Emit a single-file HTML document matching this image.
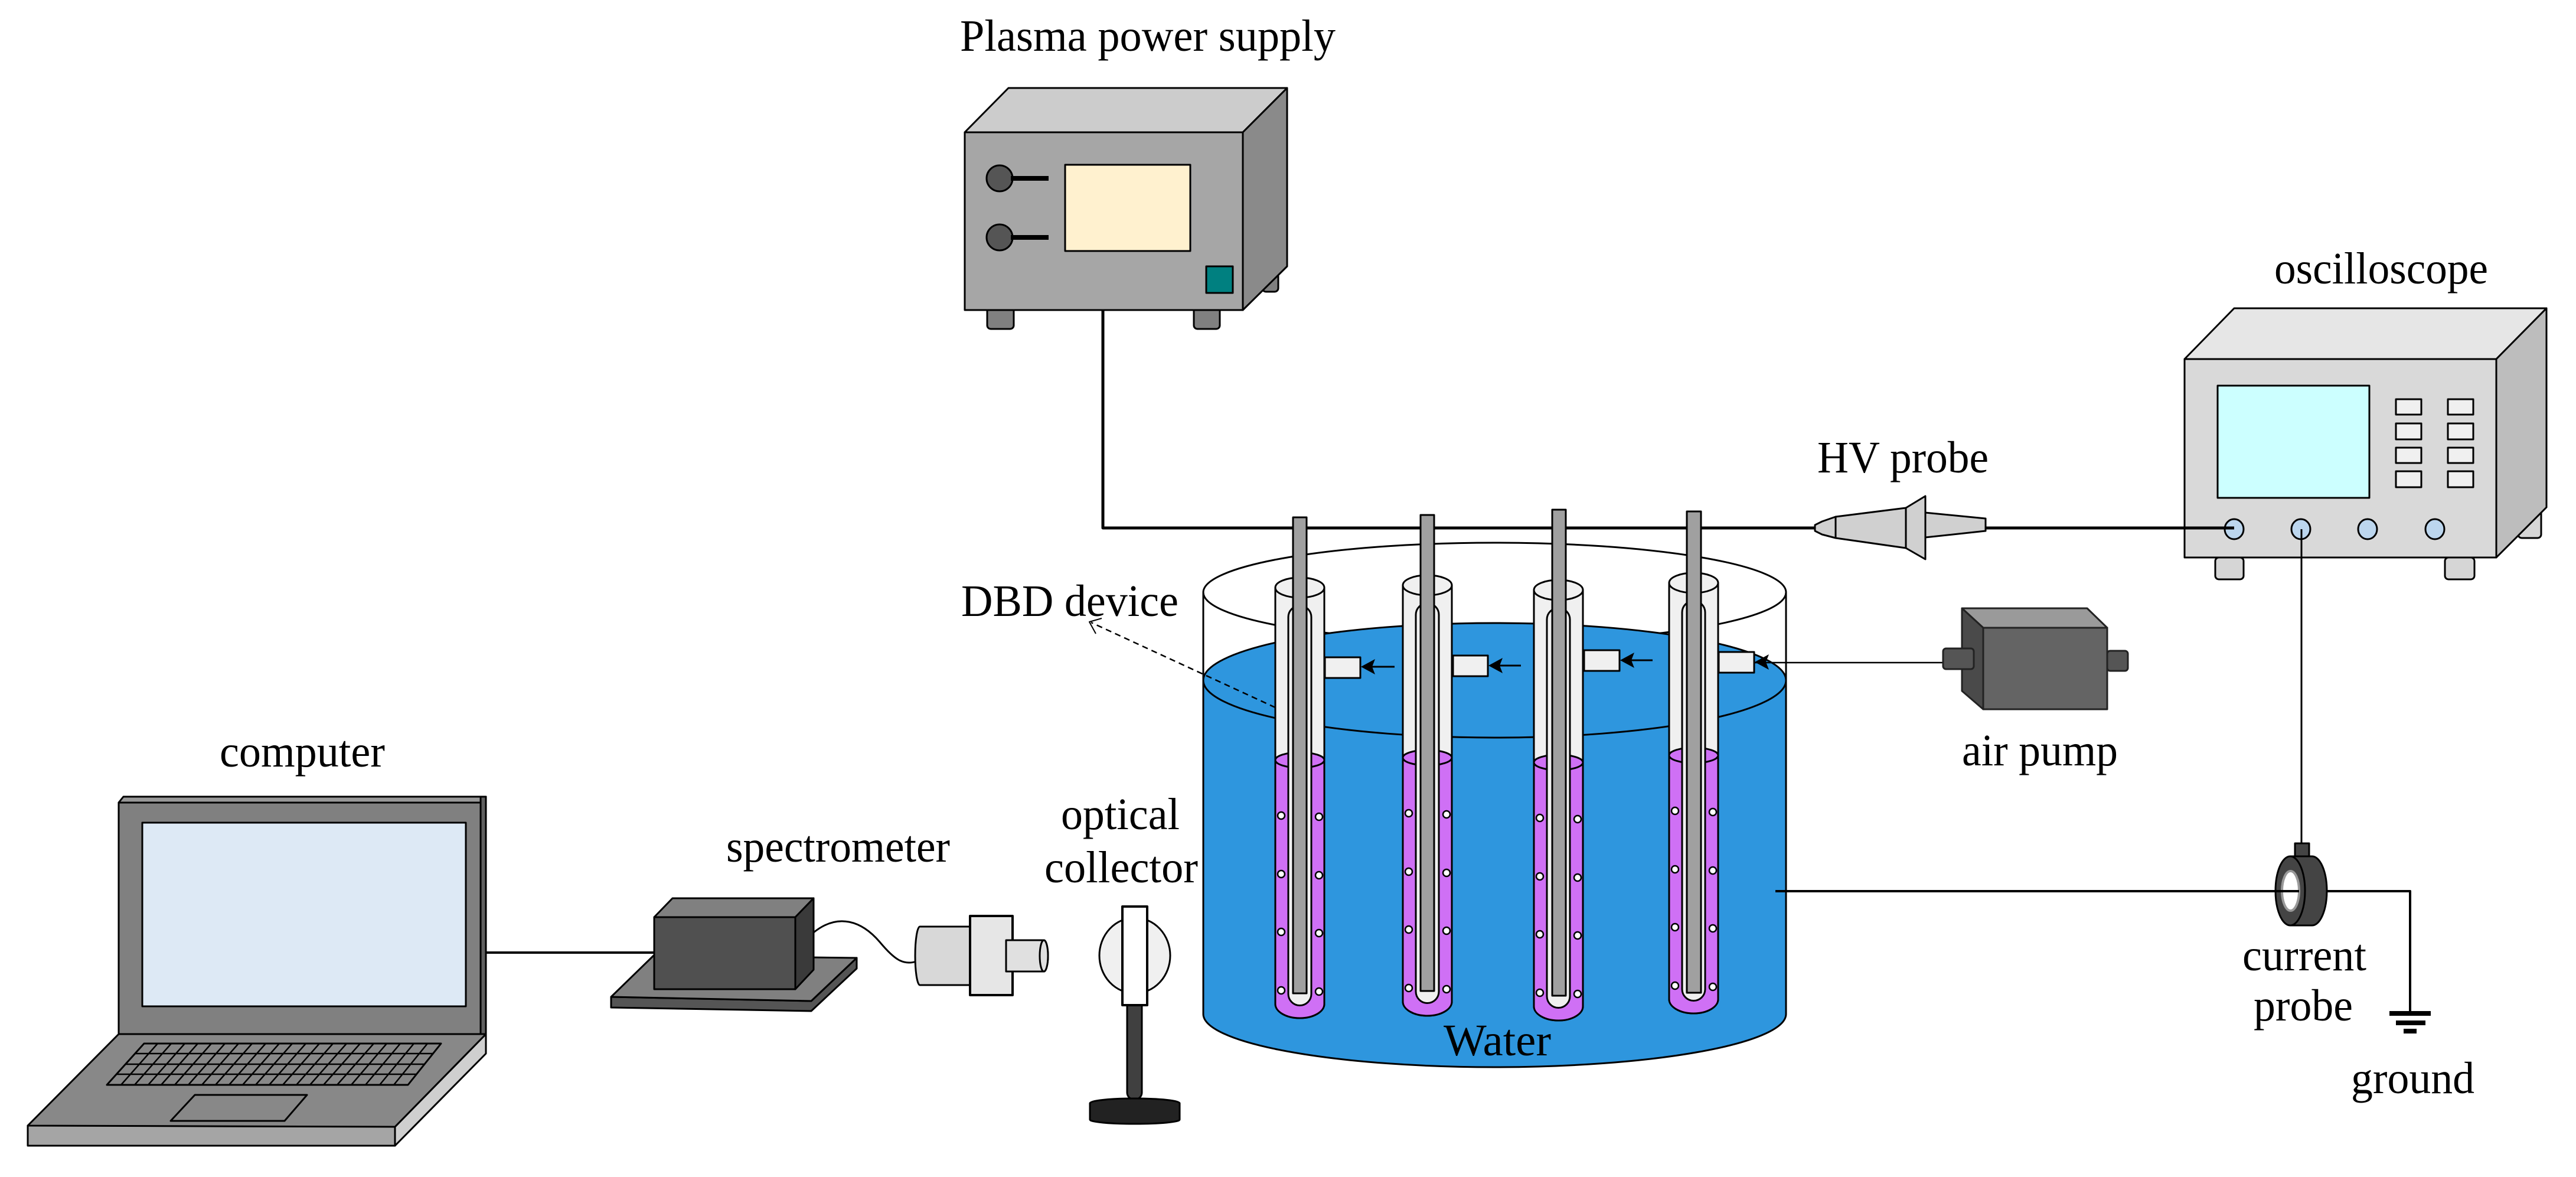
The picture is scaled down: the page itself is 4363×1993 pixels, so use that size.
<!DOCTYPE html>
<html><head><meta charset="utf-8"><style>html,body{margin:0;padding:0;background:#fff}svg{display:block}</style></head><body>
<svg width="4363" height="1993" viewBox="0 0 4363 1993" xmlns="http://www.w3.org/2000/svg" font-family="'Liberation Serif', serif" font-size="76" stroke-linejoin="round">
<rect width="4363" height="1993" fill="#fff"/>
<!-- labels -->
<g fill="#000">
<text x="1626" y="86" textLength="636" lengthAdjust="spacingAndGlyphs">Plasma power supply</text>
<text x="3852" y="480" textLength="362" lengthAdjust="spacingAndGlyphs">oscilloscope</text>
<text x="3078" y="800" textLength="290" lengthAdjust="spacingAndGlyphs">HV probe</text>
<text x="1628" y="1043" textLength="368" lengthAdjust="spacingAndGlyphs">DBD device</text>
<text x="3323" y="1296" textLength="264" lengthAdjust="spacingAndGlyphs">air pump</text>
<text x="372" y="1298" textLength="280" lengthAdjust="spacingAndGlyphs">computer</text>
<text x="1230" y="1459" textLength="379" lengthAdjust="spacingAndGlyphs">spectrometer</text>
<text x="1797" y="1404" textLength="201" lengthAdjust="spacingAndGlyphs">optical</text>
<text x="1769" y="1494" textLength="260" lengthAdjust="spacingAndGlyphs">collector</text>
<text x="3798" y="1643" textLength="210" lengthAdjust="spacingAndGlyphs">current</text>
<text x="3817" y="1728" textLength="168" lengthAdjust="spacingAndGlyphs">probe</text>
<text x="3982" y="1851" textLength="209" lengthAdjust="spacingAndGlyphs">ground</text>
</g>

<!-- power supply -->
<g stroke="#000" stroke-width="3">
<rect x="1672" y="515" width="45" height="42" rx="6" fill="#808080"/>
<rect x="2022" y="515" width="44" height="42" rx="6" fill="#808080"/>
<rect x="2138" y="440" width="27" height="54" rx="6" fill="#808080"/>
<polygon points="1634,224 1708,149 2180,149 2105,224" fill="#cccccc"/>
<polygon points="2105,224 2180,149 2180,451 2105,525" fill="#8a8a8a"/>
<rect x="1634" y="224" width="471" height="301" fill="#a6a6a6"/>
<rect x="1804" y="279" width="212" height="146" fill="#fff1cf"/>
<rect x="2043" y="451" width="45" height="45" fill="#008080"/>
<ellipse cx="1693" cy="302" rx="22" ry="22" fill="#555"/>
<ellipse cx="1693" cy="402" rx="22" ry="22" fill="#555"/>
</g>
<g stroke="#000" stroke-width="8"><line x1="1712" y1="302" x2="1776" y2="302"/><line x1="1712" y1="402" x2="1776" y2="402"/></g>
<!-- wire from PS -->
<polyline points="1868,525 1868,894 3074,894" fill="none" stroke="#000" stroke-width="5"/>

<!-- oscilloscope -->
<g stroke="#000" stroke-width="3">
<rect x="4265" y="860" width="39" height="51" rx="6" fill="#d6d6d6"/>
<rect x="3752" y="944" width="48" height="37" rx="6" fill="#d6d6d6"/>
<rect x="4141" y="944" width="50" height="37" rx="6" fill="#d6d6d6"/>
<polygon points="3700,608 3784,522 4313,522 4228,608" fill="#e6e6e6"/>
<polygon points="4228,608 4313,522 4313,859 4228,944" fill="#bdbdbd"/>
<rect x="3700" y="608" width="528" height="336" fill="#d9d9d9"/>
<rect x="3756" y="653" width="257" height="190" fill="#ccffff"/>
<g fill="#f0f0f0">
<rect x="4058" y="676" width="43" height="26"/><rect x="4146" y="676" width="43" height="26"/>
<rect x="4058" y="717" width="43" height="27"/><rect x="4146" y="717" width="43" height="27"/>
<rect x="4058" y="758" width="43" height="26"/><rect x="4146" y="758" width="43" height="26"/>
<rect x="4058" y="798" width="43" height="27"/><rect x="4146" y="798" width="43" height="27"/>
</g>
<g fill="#bcd6ee">
<ellipse cx="3784" cy="896" rx="16" ry="17"/><ellipse cx="3897" cy="896" rx="16" ry="17"/>
<ellipse cx="4010" cy="896" rx="16" ry="17"/><ellipse cx="4124" cy="896" rx="16" ry="17"/>
</g>
</g>
<!-- HV probe -->
<g stroke="#000" stroke-width="3" fill="#d0d0d0">
<polygon points="3074,889 3086,883 3109,875 3109,911 3086,905 3074,899"/>
<polygon points="3109,875 3228,860 3228,928 3109,911"/>
<polygon points="3228,860 3261,840 3261,947 3228,928"/>
<polygon points="3261,868 3363,878 3363,899 3261,910"/>
</g>
<line x1="3363" y1="894" x2="3784" y2="894" stroke="#000" stroke-width="5"/>
<line x1="3898" y1="896" x2="3898" y2="1430" stroke="#000" stroke-width="3"/>

<!-- tank -->
<g stroke="#000" stroke-width="3">
<ellipse cx="2531.5" cy="1003" rx="493.5" ry="84" fill="#fff"/>
<path d="M2038,1152 V1717 A493.5,90 0 0 0 3025,1717 V1152 Z" fill="#2e96de"/>
<ellipse cx="2531.5" cy="1152" rx="493.5" ry="97" fill="#2e96de"/>
<line x1="2038" y1="1003" x2="2038" y2="1152" />
<line x1="3025" y1="1003" x2="3025" y2="1152" />
</g>
<text x="2445" y="1787" textLength="182" lengthAdjust="spacingAndGlyphs" fill="#000">Water</text>
<!-- wire from water to current probe -->
<polyline points="3007,1509 4082,1509 4082,1716" fill="none" stroke="#000" stroke-width="4"/>
<!-- air line -->
<line x1="2971" y1="1122" x2="3291" y2="1122" stroke="#000" stroke-width="2.5"/>
<!-- DBD dashed -->
<line x1="2160" y1="1198" x2="1848" y2="1054" stroke="#000" stroke-width="2.5" stroke-dasharray="10,7"/>
<polyline points="1866,1047 1845,1053 1856,1073" fill="none" stroke="#000" stroke-width="2"/>

<!-- tubes -->
<defs>
<g id="tube">
<path d="M2160,995 V1700 A41.5,24 0 0 0 2243,1700 V995 Z" fill="#f0f0f0" stroke="#000" stroke-width="3"/>
<path d="M2160,1287 V1700 A41.5,24 0 0 0 2243,1700 V1287 Z" fill="#cf70f5" stroke="#000" stroke-width="3"/>
<ellipse cx="2201.5" cy="1287" rx="41.5" ry="13" fill="#cf70f5" stroke="#000" stroke-width="3"/>
<ellipse cx="2201.5" cy="995" rx="41.5" ry="17" fill="#f0f0f0" stroke="#000" stroke-width="3"/>
<path d="M2182,1045 A19.5,19.5 0 0 1 2221,1045 V1683 A19.5,19.5 0 0 1 2182,1683 Z" fill="#f0f0f0" stroke="#000" stroke-width="3"/>
<g fill="#fff" stroke="#000" stroke-width="2.5">
<circle cx="2170" cy="1381" r="6"/><circle cx="2234" cy="1383" r="6"/>
<circle cx="2170" cy="1480" r="6"/><circle cx="2234" cy="1482" r="6"/>
<circle cx="2170" cy="1578" r="6"/><circle cx="2234" cy="1580" r="6"/>
<circle cx="2170" cy="1677" r="6"/><circle cx="2234" cy="1679" r="6"/>
</g>
</g>
</defs>
<use href="#tube"/>
<use href="#tube" transform="translate(216,-4)"/>
<use href="#tube" transform="translate(438,4)"/>
<use href="#tube" transform="translate(667,-8)"/>
<!-- rods -->
<g fill="#a0a0a0" stroke="#000" stroke-width="3">
<rect x="2190" y="876" width="23" height="806"/>
<rect x="2406" y="872" width="23" height="806"/>
<rect x="2629" y="863" width="23" height="823"/>
<rect x="2857" y="866" width="24" height="815"/>
</g>
<!-- inlets -->
<g fill="#f0f0f0" stroke="#000" stroke-width="3">
<rect x="2244" y="1113" width="60" height="35"/>
<rect x="2461" y="1110" width="59" height="35"/>
<rect x="2683" y="1101" width="60" height="35"/>
<rect x="2911" y="1104" width="60" height="35"/>
</g>
<g stroke="#000" stroke-width="3">
<line x1="2362" y1="1129" x2="2320" y2="1129"/>
<line x1="2576" y1="1127" x2="2535" y2="1127"/>
<line x1="2799" y1="1118" x2="2758" y2="1118"/>
</g>
<g fill="#000">
<polygon points="2305,1129 2329,1116 2324,1129 2329,1142"/>
<polygon points="2521,1127 2545,1114 2540,1127 2545,1140"/>
<polygon points="2744,1118 2768,1105 2763,1118 2768,1131"/>
<polygon points="2972,1121 2996,1108 2991,1121 2996,1134"/>
</g>

<!-- air pump -->
<g stroke="#222" stroke-width="3">
<polygon points="3323,1030 3535,1030 3569,1063 3359,1063" fill="#9a9a9a"/>
<polygon points="3323,1030 3359,1063 3359,1201 3323,1170" fill="#4a4a4a"/>
<rect x="3359" y="1063" width="210" height="138" fill="#646464"/>
<rect x="3569" y="1102" width="35" height="34" rx="5" fill="#555"/>
<rect x="3291" y="1098" width="52" height="35" rx="5" fill="#555"/>
</g>

<!-- current probe -->
<g stroke="#000" stroke-width="3">
<rect x="3887" y="1428" width="24" height="22" fill="#444"/>
<path d="M3879,1450 H3916 A25,58.5 0 0 1 3916,1567 H3879 Z" fill="#444"/>
<ellipse cx="3879" cy="1508.5" rx="25" ry="58.5" fill="#444"/>
<ellipse cx="3879.5" cy="1508.5" rx="14.5" ry="33.5" fill="#fff" stroke="#999" stroke-width="4"/>
</g>
<line x1="3007" y1="1509" x2="3894" y2="1509" stroke="#000" stroke-width="4"/>
<g stroke="#000" stroke-width="8">
<line x1="4047" y1="1716" x2="4117" y2="1716"/>
<line x1="4058" y1="1732" x2="4108" y2="1732"/>
<line x1="4071" y1="1746" x2="4093" y2="1746"/>
</g>

<!-- laptop -->
<line x1="823" y1="1613" x2="1108" y2="1613" stroke="#000" stroke-width="4"/>
<g stroke="#000" stroke-width="3">
<polygon points="201,1359 209,1349 823,1349 814,1359" fill="#999"/>
<rect x="814" y="1349" width="9" height="402" fill="#606060"/>
<rect x="201" y="1359" width="613" height="392" fill="#808080"/>
<rect x="241" y="1393" width="548" height="311" fill="#dde9f5"/>
<polygon points="669,1908 823,1751 823,1784 669,1940" fill="#cfcfcf"/>
<rect x="47" y="1906" width="622" height="34" fill="#a5a5a5"/>
<polygon points="201,1751 823,1751 669,1908 47,1906" fill="#888"/>
<polygon points="244,1767 747,1767 691,1837 181,1837" fill="#888"/>
<polygon points="330,1854 520,1854 482,1898 289,1898" fill="#888"/>
</g>
<g stroke="#000" stroke-width="2.5">
<line x1="228" y1="1784" x2="733" y2="1784"/>
<line x1="213" y1="1802" x2="719" y2="1802"/>
<line x1="197" y1="1819" x2="705" y2="1819"/>
<line x1="267" y1="1767" x2="205" y2="1837"/><line x1="290" y1="1767" x2="228" y2="1837"/>
<line x1="313" y1="1767" x2="251" y2="1837"/><line x1="335" y1="1767" x2="273" y2="1837"/>
<line x1="358" y1="1767" x2="296" y2="1837"/><line x1="381" y1="1767" x2="319" y2="1837"/>
<line x1="404" y1="1767" x2="342" y2="1837"/><line x1="427" y1="1767" x2="365" y2="1837"/>
<line x1="450" y1="1767" x2="388" y2="1837"/><line x1="473" y1="1767" x2="411" y2="1837"/>
<line x1="495" y1="1767" x2="433" y2="1837"/><line x1="518" y1="1767" x2="456" y2="1837"/>
<line x1="541" y1="1767" x2="479" y2="1837"/><line x1="564" y1="1767" x2="502" y2="1837"/>
<line x1="587" y1="1767" x2="525" y2="1837"/><line x1="610" y1="1767" x2="548" y2="1837"/>
<line x1="633" y1="1767" x2="571" y2="1837"/><line x1="655" y1="1767" x2="595" y2="1837"/>
<line x1="678" y1="1767" x2="619" y2="1837"/><line x1="701" y1="1767" x2="643" y2="1837"/>
<line x1="724" y1="1767" x2="667" y2="1837"/>
</g>

<!-- spectrometer -->
<g stroke="#000" stroke-width="3">
<polygon points="1035,1688 1374,1695 1451,1622 1451,1640 1374,1712 1035,1706" fill="#555"/>
<polygon points="1107,1618 1451,1622 1374,1695 1035,1688" fill="#808080"/>
<polygon points="1108,1553 1139,1521 1378,1521 1347,1553" fill="#808080"/>
<polygon points="1347,1553 1378,1521 1378,1642 1347,1675" fill="#3a3a3a"/>
<rect x="1108" y="1553" width="239" height="122" fill="#505050"/>
</g>
<path d="M1378,1579 C1420,1545 1460,1560 1490,1595 C1515,1625 1530,1635 1552,1628" fill="none" stroke="#000" stroke-width="3"/>
<g stroke="#000" stroke-width="3">
<path d="M1558,1569 H1646 V1668 H1558 A8,49.5 0 0 1 1558,1569 Z" fill="#d8d8d8"/>
<rect x="1643" y="1551" width="72" height="134" fill="#e6e6e6" stroke-width="4"/>
<path d="M1704,1592 H1768 A7,26.5 0 0 1 1768,1645 H1704 Z" fill="#e0e0e0"/>
<ellipse cx="1768" cy="1618.5" rx="7" ry="26.5" fill="#e0e0e0"/>
</g>

<!-- optical collector -->
<g stroke="#000" stroke-width="3">
<ellipse cx="1922" cy="1618" rx="60" ry="64" fill="#f0f0f0"/>
<path d="M1909,1702 V1850 A12.5,12 0 0 0 1934,1850 V1702 Z" fill="#404040"/>
<path d="M1846,1868 A76,8 0 0 1 1998,1868 V1896 A76,7 0 0 1 1846,1896 Z" fill="#222"/>
<rect x="1901" y="1535" width="42" height="167" fill="#fff" stroke-width="4"/>
</g>
</svg>
</body></html>
